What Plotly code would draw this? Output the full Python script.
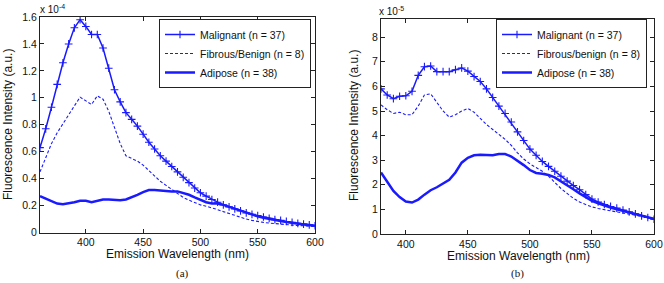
import plotly.graph_objects as go

# ---------------- data (a) : intensity in units of 1e-4 ----------------
wl_a = [360,365,370,375,380,385,390,395,400,405,410,415,420,425,430,435,440,445,450,455,
        460,465,470,475,480,485,490,495,500,505,510,515,520,525,530,535,540,545,550,555,
        560,565,570,575,580,585,590,595,600]
malig_a = [0.63,0.77,0.93,1.10,1.26,1.40,1.52,1.58,1.53,1.47,1.47,1.37,1.22,1.06,0.97,0.89,0.84,0.79,0.73,0.67,
           0.62,0.57,0.53,0.49,0.45,0.41,0.37,0.33,0.295,0.27,0.245,0.225,0.205,0.19,0.175,0.16,0.145,0.135,0.125,0.115,
           0.105,0.095,0.09,0.082,0.075,0.068,0.062,0.056,0.05]
fib_a = [0.45,0.56,0.66,0.74,0.81,0.87,0.94,1.005,0.98,0.95,1.015,0.99,0.90,0.78,0.66,0.57,0.55,0.53,0.50,0.46,
         0.42,0.38,0.35,0.32,0.29,0.26,0.24,0.22,0.205,0.195,0.185,0.17,0.155,0.14,0.125,0.11,0.10,0.09,0.08,0.075,
         0.07,0.065,0.06,0.057,0.055,0.052,0.05,0.047,0.045]
adip_a = [0.27,0.25,0.23,0.215,0.21,0.215,0.225,0.235,0.235,0.225,0.235,0.245,0.245,0.24,0.24,0.245,0.26,0.28,0.30,0.315,
          0.315,0.31,0.305,0.305,0.305,0.295,0.28,0.26,0.24,0.225,0.215,0.215,0.205,0.19,0.175,0.16,0.145,0.132,0.12,0.11,
          0.10,0.092,0.085,0.077,0.07,0.065,0.06,0.055,0.05]

# ---------------- data (b) : intensity in units of 1e-5 ----------------
wl_b = [380,385,390,395,400,405,410,415,420,425,430,435,440,445,450,455,460,465,470,475,
        480,485,490,495,500,505,510,515,520,525,530,535,540,545,550,555,560,565,570,575,
        580,585,590,595,600]
malig_b = [5.9,5.65,5.5,5.6,5.62,5.8,6.45,6.8,6.83,6.6,6.6,6.6,6.68,6.75,6.62,6.4,6.2,5.9,5.55,5.2,
           4.9,4.55,4.15,3.8,3.45,3.2,2.95,2.75,2.55,2.35,2.15,1.97,1.8,1.6,1.42,1.3,1.2,1.12,1.05,0.97,
           0.9,0.82,0.74,0.67,0.6]
fib_b = [5.25,5.05,4.9,4.95,4.85,4.85,5.2,5.65,5.7,5.35,5.0,4.75,4.85,5.0,5.1,4.95,4.7,4.45,4.25,4.05,
         3.85,3.6,3.3,3.05,2.85,2.7,2.55,2.35,2.1,1.85,1.65,1.45,1.3,1.2,1.1,1.04,0.98,0.94,0.9,0.86,
         0.82,0.77,0.72,0.66,0.6]
adip_b = [2.5,2.1,1.75,1.5,1.32,1.28,1.4,1.6,1.78,1.9,2.05,2.2,2.5,2.9,3.1,3.2,3.22,3.2,3.2,3.25,
          3.25,3.15,2.98,2.8,2.6,2.48,2.45,2.4,2.3,2.15,2.0,1.82,1.65,1.5,1.35,1.25,1.15,1.07,1.0,0.94,
          0.88,0.82,0.75,0.68,0.62]

names_a = ["Malignant (n = 37)", "Fibrous/Benign (n = 8)", "Adipose (n = 38)"]
names_b = ["Malignant (n = 37)", "Fibrous/benign (n = 8)", "Adipose (n = 38)"]
yt_a = [0, 0.2, 0.4, 0.6, 0.8, 1, 1.2, 1.4, 1.6]
yt_b = [0, 1, 2, 3, 4, 5, 6, 7, 8]
xt = [400, 450, 500, 550, 600]

BLUE = "#1a1aff"
FONT = "Liberation Sans"

fig = go.Figure()

def add_set(wl, m, f, a, names, xa, ya, leg):
    fig.add_trace(go.Scatter(x=wl, y=m, name=names[0], mode="lines+markers",
                             line=dict(color=BLUE, width=1.5),
                             marker=dict(symbol="cross-thin", size=5.5, line=dict(color=BLUE, width=1.1)),
                             xaxis=xa, yaxis=ya, legend=leg))
    fig.add_trace(go.Scatter(x=wl, y=f, name=names[1], mode="lines",
                             line=dict(color=BLUE, width=1.1, dash="3px,2px"),
                             xaxis=xa, yaxis=ya, legend=leg))
    fig.add_trace(go.Scatter(x=wl, y=a, name=names[2], mode="lines",
                             line=dict(color=BLUE, width=2.5),
                             xaxis=xa, yaxis=ya, legend=leg))

add_set(wl_a, malig_a, fib_a, adip_a, names_a, "x", "y", "legend")
add_set(wl_b, malig_b, fib_b, adip_b, names_b, "x2", "y2", "legend2")

W, H = 664, 283
axcommon = dict(showline=True, linecolor="#222", linewidth=1, mirror="ticks", ticks="inside",
                ticklen=4, tickcolor="#222", showgrid=False, zeroline=False, automargin=False,
                tickfont=dict(family=FONT, size=10.5, color="#111"))

legcommon = dict(bgcolor="white", bordercolor="#222", borderwidth=1,
                 font=dict(family=FONT, size=10.5, color="#111"),
                 xanchor="right", yanchor="top", tracegroupgap=0, itemwidth=30)

fig.update_layout(
    template="none",
    width=W, height=H, autosize=False,
    margin=dict(l=0, r=0, t=0, b=0, pad=0, autoexpand=False),
    paper_bgcolor="white", plot_bgcolor="white", showlegend=True,
    xaxis=dict(domain=[40/W, 315/W], range=[360, 600], tickvals=xt, anchor="y", **axcommon),
    yaxis=dict(domain=[1-232.5/H, 1-17/H], range=[0, 1.6], tickvals=yt_a,
               ticktext=[("%g" % v) for v in yt_a], anchor="x", **axcommon),
    xaxis2=dict(domain=[381/W, 654/W], range=[380, 600], tickvals=xt, anchor="y2", **axcommon),
    yaxis2=dict(domain=[1-234/H, 1-19/H], range=[0, 8.74], tickvals=yt_b, anchor="x2", **axcommon),
    legend=dict(x=311/W, y=1-19/H, **legcommon),
    legend2=dict(x=647/W, y=1-19/H, **legcommon),
)

ann = []
tf = dict(family=FONT, size=12, color="#111")
ann.append(dict(text="Emission Wavelength (nm)", x=177/W, y=1-254/H, xref="paper", yref="paper",
                showarrow=False, font=tf, xanchor="center", yanchor="middle"))
ann.append(dict(text="Emission Wavelength (nm)", x=518/W, y=1-256/H, xref="paper", yref="paper",
                showarrow=False, font=tf, xanchor="center", yanchor="middle"))
ann.append(dict(text="Fluorescence Intensity (a.u.)", x=8/W, y=1-125/H, xref="paper", yref="paper",
                showarrow=False, font=tf, textangle=-90, xanchor="center", yanchor="middle"))
ann.append(dict(text="Fluorescence Intensity (a.u.)", x=354/W, y=1-126/H, xref="paper", yref="paper",
                showarrow=False, font=tf, textangle=-90, xanchor="center", yanchor="middle"))
sf = dict(family=FONT, size=10, color="#111")
ann.append(dict(text="x 10<sup>-4</sup>", x=38/W, y=1-9/H, xref="paper", yref="paper",
                showarrow=False, font=sf, xanchor="left", yanchor="middle"))
ann.append(dict(text="x 10<sup>-5</sup>", x=377/W, y=1-11/H, xref="paper", yref="paper",
                showarrow=False, font=sf, xanchor="left", yanchor="middle"))
cf = dict(family="Liberation Serif", size=11, color="#111")
ann.append(dict(text="(a)", x=182/W, y=1-273/H, xref="paper", yref="paper",
                showarrow=False, font=cf, xanchor="center", yanchor="middle"))
ann.append(dict(text="(b)", x=517/W, y=1-273/H, xref="paper", yref="paper",
                showarrow=False, font=cf, xanchor="center", yanchor="middle"))
fig.update_layout(annotations=ann)

fig.write_html("out.html", config={"displayModeBar": False},
               post_script="document.body.style.margin='0';")
